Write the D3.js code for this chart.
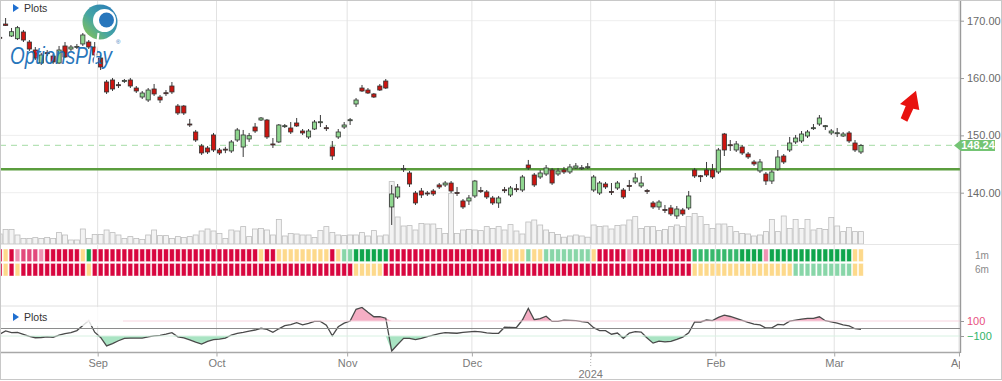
<!DOCTYPE html>
<html>
<head>
<meta charset="utf-8">
<script src="https://cdn.jsdelivr.net/npm/d3@7"></script>
<style>
  body { margin: 0; background: #fff; }
  svg { display: block; font-family: "Liberation Sans", Arial, sans-serif; }
</style>
</head>
<body>
<div id="chart"></div>
<script>
// Daily bars, Aug 9 2023 .. Mar 7 2024 (index 0 = first bar)
const opens = [
  167.10, 169.42, 167.33, 166.86, 168.03, 166.28, 164.89, 162.62, 164.42, 163.84,
  162.62, 165.59, 165.06, 165.47, 165.94, 166.28, 165.41, 163.49, 159.31, 159.66,
  158.84, 159.49, 159.66, 158.26, 156.69, 156.17, 158.09, 156.69, 157.44, 158.61,
  155.12, 155.12, 151.98, 150.59, 148.15, 147.80, 150.07, 147.45, 147.60, 147.28,
  149.19, 147.97, 149.37, 151.46, 152.68, 152.68, 148.50, 148.85, 151.59, 151.29,
  152.16, 150.76, 149.72, 151.11, 152.28, 151.34, 147.97, 149.72, 151.46, 152.63,
  155.47, 158.26, 157.91, 157.22, 158.61, 159.48, 137.51, 139.25, 144.14, 143.44,
  139.95, 140.30, 139.95, 140.30, 141.35, 141.35, 141.69, 140.04, 138.56, 138.56,
  139.43, 140.39, 140.13, 139.08, 138.21, 140.52, 139.60, 140.70, 140.47, 144.83,
  143.09, 142.74, 143.26, 143.96, 143.26, 143.96, 143.61, 144.31, 144.26, 144.43,
  140.47, 139.95, 141.52, 140.21, 140.82, 140.47, 141.26, 141.87, 141.17, 140.39,
  138.21, 137.51, 137.06, 137.34, 135.94, 136.99, 137.34, 143.96, 142.96, 143.96,
  143.96, 143.61, 150.24, 148.37, 147.45, 147.97, 146.75, 145.36, 143.79, 143.26,
  142.04, 144.14, 146.40, 147.45, 148.85, 149.02, 149.89, 151.29, 151.98, 151.64,
  150.42, 150.38, 149.89, 150.42, 148.67, 147.10
];
const highs = [
  167.40, 170.47, 168.73, 169.08, 168.38, 166.63, 165.41, 164.37, 164.89, 164.19,
  165.59, 166.28, 165.76, 165.94, 167.85, 166.63, 166.28, 164.02, 159.66, 160.01,
  159.31, 159.83, 160.01, 158.61, 157.74, 158.26, 158.96, 157.04, 157.91, 159.31,
  155.47, 155.30, 152.86, 150.94, 148.50, 148.15, 150.42, 147.80, 148.00, 149.19,
  151.29, 150.94, 150.42, 152.16, 153.20, 152.86, 149.54, 151.98, 151.98, 152.33,
  153.03, 151.11, 151.11, 152.68, 153.55, 151.81, 149.02, 151.11, 152.33, 153.03,
  156.52, 158.79, 158.26, 157.39, 158.96, 159.83, 141.35, 141.52, 144.83, 143.79,
  140.30, 140.82, 140.30, 140.65, 141.69, 142.04, 142.04, 141.00, 138.90, 139.60,
  142.22, 141.00, 140.47, 139.43, 139.43, 141.00, 141.17, 141.52, 143.09, 145.71,
  143.44, 143.96, 144.83, 144.31, 144.31, 144.49, 145.01, 145.18, 144.83, 145.18,
  143.09, 142.04, 141.87, 141.69, 142.04, 140.82, 142.22, 143.44, 142.92, 140.65,
  138.56, 138.73, 137.86, 137.86, 137.68, 137.34, 140.30, 144.31, 143.09, 145.36,
  145.01, 147.80, 150.42, 149.19, 149.02, 148.32, 147.10, 145.71, 145.88, 143.61,
  143.96, 147.45, 146.75, 149.72, 150.07, 150.76, 150.94, 151.98, 153.55, 151.81,
  151.11, 151.29, 150.59, 150.76, 149.19, 148.50
];
const lows = [
  166.70, 169.08, 167.16, 166.63, 166.28, 164.72, 163.15, 162.27, 163.84, 162.45,
  162.45, 163.49, 164.72, 165.06, 165.59, 165.06, 163.67, 161.40, 157.22, 157.74,
  158.26, 159.14, 158.26, 157.39, 156.34, 155.82, 156.87, 155.65, 156.87, 157.22,
  153.55, 153.55, 151.46, 148.85, 146.58, 146.75, 147.10, 146.58, 146.90, 146.93,
  148.85, 146.23, 148.85, 150.42, 152.51, 149.37, 147.80, 148.67, 151.29, 150.24,
  151.46, 150.07, 149.37, 150.94, 151.46, 150.76, 145.71, 149.37, 151.11, 151.81,
  154.95, 157.57, 157.22, 156.52, 157.74, 158.09, 134.37, 138.90, 143.61, 141.00,
  137.86, 139.08, 139.43, 139.43, 140.65, 141.00, 139.95, 139.43, 137.16, 137.86,
  139.08, 139.95, 138.90, 137.86, 137.34, 139.95, 139.25, 140.13, 140.13, 143.96,
  141.00, 142.39, 142.92, 141.35, 142.92, 143.26, 143.26, 144.14, 143.96, 144.14,
  140.13, 139.60, 140.65, 139.60, 140.47, 138.90, 140.30, 141.52, 140.82, 139.78,
  137.16, 136.99, 136.46, 135.94, 135.42, 135.94, 136.99, 142.57, 141.87, 142.74,
  142.39, 143.26, 146.40, 147.28, 147.10, 146.58, 145.88, 144.66, 143.44, 141.35,
  141.52, 143.79, 145.01, 147.10, 148.50, 148.67, 149.54, 150.94, 151.64, 150.94,
  150.07, 149.72, 149.72, 148.67, 147.10, 146.75
];
const closes = [
  166.95, 169.16, 168.08, 168.78, 166.63, 165.06, 163.49, 164.02, 164.32, 162.80,
  164.89, 163.67, 165.41, 165.52, 167.51, 165.41, 164.02, 161.93, 157.57, 158.09,
  158.74, 159.59, 158.61, 157.74, 157.39, 157.91, 157.22, 156.17, 157.34, 157.57,
  153.90, 153.90, 151.81, 149.19, 146.93, 147.10, 147.45, 146.93, 147.50, 148.85,
  150.94, 150.07, 149.94, 150.76, 153.03, 149.72, 148.32, 151.81, 151.69, 150.59,
  151.64, 150.42, 150.76, 152.33, 152.38, 151.24, 146.40, 150.59, 151.81, 152.73,
  156.17, 157.74, 157.39, 156.69, 157.91, 158.26, 139.78, 141.00, 144.24, 141.52,
  138.21, 139.60, 139.78, 139.78, 141.00, 141.69, 140.30, 139.86, 137.51, 139.08,
  142.04, 140.21, 139.25, 138.21, 139.08, 140.42, 140.82, 140.60, 142.74, 144.31,
  141.35, 143.44, 144.31, 141.69, 143.79, 143.61, 144.49, 144.66, 144.36, 144.53,
  142.74, 141.69, 141.00, 140.04, 141.69, 139.25, 141.10, 142.57, 141.69, 140.21,
  137.51, 138.38, 136.94, 136.29, 137.16, 136.29, 139.43, 142.92, 142.88, 143.09,
  142.74, 147.45, 147.45, 148.27, 148.50, 146.93, 146.23, 145.01, 145.36, 142.04,
  143.61, 146.23, 145.36, 148.67, 149.54, 150.24, 150.59, 151.34, 153.03, 151.69,
  150.76, 150.46, 150.24, 149.02, 147.45, 148.24
];
// volume, millions
const volumes = [
  5.0, 7.3, 7.3, 4.5, 2.8, 2.8, 3.2, 2.8, 3.3, 2.8,
  5.7, 4.5, 2.0, 2.0, 7.5, 2.8, 4.8, 4.8, 7.0, 5.7,
  4.5, 2.8, 3.7, 2.8, 2.3, 4.5, 7.0, 4.2, 4.2, 2.8,
  3.7, 3.3, 3.7, 4.5, 6.5, 7.5, 6.5, 5.3, 2.8, 7.0,
  6.5, 8.7, 3.7, 7.5, 7.8, 7.0, 4.5, 12.3, 4.0, 5.3,
  5.0, 4.5, 4.5, 3.3, 6.7, 8.7, 5.8, 4.5, 4.2, 4.5,
  4.5, 5.7, 4.0, 6.7, 4.0, 4.5, 31.2, 13.5, 9.0, 9.2,
  7.0, 10.3, 10.0, 10.0, 7.8, 5.3, 25.3, 5.3, 7.0, 7.3,
  7.0, 6.7, 8.7, 7.8, 8.7, 7.0, 9.7, 6.5, 5.0, 11.0,
  12.0, 9.5, 7.0, 5.8, 4.8, 3.4, 4.0, 4.5, 4.0, 3.4,
  9.5, 8.8, 9.0, 7.5, 9.3, 9.5, 12.0, 13.7, 7.8, 8.7,
  8.7, 6.7, 7.3, 8.7, 9.5, 8.7, 13.7, 15.3, 13.7, 9.8,
  7.8, 10.0, 10.0, 8.7, 6.2, 5.3, 5.0, 4.0, 4.5, 6.2,
  12.3, 6.2, 14.0, 7.8, 12.3, 7.8, 12.3, 7.0, 7.8, 7.3,
  13.3, 9.0, 6.2, 8.3, 6.2, 6.2
];
// oscillator (CCI style)
const oscValues = [
  -77, -32, -55, -52, -77, -105, -123, -120, -111, -117,
  -87, -69, -55, -28, 40, 105, -49, -120, -233, -201,
  -163, -131, -129, -128, -127, -113, -97, -93, -76, -56,
  -111, -124, -153, -181, -207, -171, -149, -141, -129, -87,
  -64, -51, -36, -20, 3, -11, -51, -4, 37, 53,
  77, 48, 67, 96, 95, 43, -98, 23, 71, 100,
  256, 280, 217, 157, 157, 137, -300, -213, -131, -131,
  -149, -133, -107, -87, -68, -56, -60, -63, -53, -45,
  -39, -44, -57, -64, -64, 17, 16, 13, 113, 269,
  117, 131, 164, 95, 96, 111, 109, 105, 93, 83,
  11, -27, -29, -76, -60, -131, -60, -41, -47, -127,
  -195, -168, -179, -171, -145, -115, -57, 89, 87, 113,
  105, 149, 177, 160, 136, 108, 81, 59, 47, 7,
  9, 55, 49, 97, 113, 125, 136, 136, 156, 104,
  89, 72, 49, 36, -3, -11
];
// strength heat rows: R red, P pink, L light pink, Y neutral, N light green, M green, G dark green
const heat1m = ("RYRLPPPLRR RRRRYGRRRR RRRRRRRRRR RRRRRRRRRR RRRRYRRYYY " +
  "YYYYYYRYNN GGGGGGRRRR RRRRRRRRRR RRRRRYYYYN YYNNNNNNNN " +
  "YRRRRRLRRR RRRRRRRMMM MMMMMGGGGL GGGGGGGGGG GGGGYY").replace(/ /g, "").split("");
const heat6m = ("RYRYRRRRRR RRRRRYRRRR RRRRRRRRRR RRRRRRRRRR RRRRRRRRRR " +
  "RRRRRRRRRR YYYYYRRRRR RRRRRRRRRR RRRRRRRRRR RRRRRRRRRR " +
  "RRRRRRRRRR RRRRRRRYYY YYYYYYYYYY YYYYNNNNNN NNNNYY").replace(/ /g, "").split("");
const heatRows = ["1m", "6m"];

// month starts (bar index of first session), labels
const monthStarts = [17, 37, 59, 80, 100, 121, 141, 162];
const monthLabels = ["Sep", "Oct", "Nov", "Dec", "", "Feb", "Mar", "Apr"];
const yearStarts = [100];
const yearLabels = ["2024"];

const priceTicks = [140, 150, 160, 170];
const oscTicks = [100, -100];
const supportLevel = 144.1;
const lastPrice = 148.24;

// layout
const width = 1002, height = 381;
const plotRight = 960;

const svg = d3.select("#chart").append("svg")
  .attr("width", width)
  .attr("height", height);

const defs = svg.append("defs");
defs.append("clipPath").attr("id", "plotClip")
  .append("rect").attr("x", 1).attr("y", 1).attr("width", plotRight - 1).attr("height", 360);

const grad = defs.append("linearGradient").attr("id", "logoGrad")
  .attr("x1", "0%").attr("y1", "100%").attr("x2", "100%").attr("y2", "0%");
grad.append("stop").attr("offset", "0%").attr("stop-color", "#8dc63f");
grad.append("stop").attr("offset", "45%").attr("stop-color", "#3aa0a0");
grad.append("stop").attr("offset", "100%").attr("stop-color", "#1b6fba");

// scales
const x = d3.scaleLinear().domain([0, 145]).range([-0.34, 860.96]);
const step = x(1) - x(0);
const yPrice = d3.scaleLinear().domain([140, 170]).range([192.7, 20.7]);
const yVol = d3.scaleLinear().domain([0, 40]).range([244, 164]);
const yOsc = d3.scaleLinear().domain([-100, 100]).range([336, 321]);
const yHeat = d3.scaleBand().domain(heatRows).range([249, 276]).paddingInner(0.12);
const heatColor = d3.scaleOrdinal()
  .domain(["R", "P", "L", "Y", "N", "M", "G"])
  .range(["#d8063f", "#e2497c", "#ee93b3", "#fdd98b", "#88d6a8", "#37b86c", "#0fa54c"]);

const idx = d3.range(opens.length);
const monthX = monthStarts.map(d => x(d - 0.5));

// frame
svg.append("rect")
  .attr("x", 0.5).attr("y", 0.5)
  .attr("width", width - 1).attr("height", 379)
  .attr("fill", "#fff").attr("stroke", "#c8c8c8");

// horizontal grid in price panel
svg.append("g").selectAll("line")
  .data(priceTicks)
  .enter().append("line")
  .attr("x1", 1).attr("x2", plotRight)
  .attr("y1", d => yPrice(d)).attr("y2", d => yPrice(d))
  .attr("stroke", "#eeeeee");

// vertical month grid
svg.append("g").selectAll("line")
  .data(monthX)
  .enter().append("line")
  .attr("x1", d => d).attr("x2", d => d)
  .attr("y1", 1).attr("y2", 352)
  .attr("stroke", "#e2e2e2");

const plot = svg.append("g").attr("clip-path", "url(#plotClip)");

// volume bars
plot.append("g").selectAll("rect")
  .data(idx)
  .enter().append("rect")
  .attr("x", i => x(i) - 2.5)
  .attr("width", 5)
  .attr("y", i => yVol(volumes[i]))
  .attr("height", i => yVol(0) - yVol(volumes[i]))
  .attr("fill", "#f3f3f3")
  .attr("stroke", "#bdbdbd")
  .attr("stroke-width", 0.8);

// base line under volume
svg.append("line")
  .attr("x1", 1).attr("x2", plotRight)
  .attr("y1", 244.5).attr("y2", 244.5)
  .attr("stroke", "#e6e6e6");

// support line
plot.append("line")
  .attr("x1", 0).attr("x2", plotRight)
  .attr("y1", yPrice(supportLevel)).attr("y2", yPrice(supportLevel))
  .attr("stroke", "#5b9d3e").attr("stroke-width", 2.6);

// last price dashed line
plot.append("line")
  .attr("x1", 0).attr("x2", plotRight)
  .attr("y1", yPrice(lastPrice)).attr("y2", yPrice(lastPrice))
  .attr("stroke", "#b6e2b6").attr("stroke-width", 1.2)
  .attr("stroke-dasharray", "6,5");

// candles
const candles = plot.append("g").selectAll("g")
  .data(idx)
  .enter().append("g");

candles.append("line")
  .attr("x1", i => x(i)).attr("x2", i => x(i))
  .attr("y1", i => yPrice(highs[i])).attr("y2", i => yPrice(lows[i]))
  .attr("stroke", "#3a3a3a").attr("stroke-width", 1);

candles.append("rect")
  .attr("x", i => x(i) - 2.1)
  .attr("width", 4.2)
  .attr("y", i => yPrice(Math.max(opens[i], closes[i])))
  .attr("height", i => Math.max(1, Math.abs(yPrice(opens[i]) - yPrice(closes[i]))))
  .attr("fill", i => closes[i] >= opens[i] ? "#8fd68f" : "#cc1510")
  .attr("stroke", "#333")
  .attr("stroke-width", 0.8);

// heat rows
heatRows.forEach((row, r) => {
  const codes = r === 0 ? heat1m : heat6m;
  plot.append("g").selectAll("rect")
    .data(idx)
    .enter().append("rect")
    .attr("x", i => x(i) - step / 2 + 0.6)
    .attr("width", step - 1.2)
    .attr("y", yHeat(row))
    .attr("height", yHeat.bandwidth())
    .attr("fill", i => heatColor(codes[i]))
    .attr("stroke", "rgba(255,255,255,0.55)")
    .attr("stroke-width", 0.8);
});

svg.append("g").selectAll("text")
  .data(heatRows)
  .enter().append("text")
  .attr("x", 975)
  .attr("y", d => yHeat(d) + yHeat.bandwidth() / 2 + 3.5)
  .attr("font-size", 10)
  .attr("fill", "#8a8a8a")
  .text(d => d);

// oscillator panel
svg.append("line")
  .attr("x1", 1).attr("x2", plotRight).attr("y1", 306).attr("y2", 306)
  .attr("stroke", "#e0e0e0");
svg.append("line")
  .attr("x1", 1).attr("x2", plotRight).attr("y1", yOsc(100)).attr("y2", yOsc(100))
  .attr("stroke", "#f7d3de");
svg.append("line")
  .attr("x1", 1).attr("x2", plotRight).attr("y1", yOsc(-100)).attr("y2", yOsc(-100))
  .attr("stroke", "#d8f1e2");

const oscHigh = d3.area()
  .x(i => x(i))
  .y0(yOsc(100))
  .y1(i => yOsc(Math.max(100, oscValues[i])));
const oscLow = d3.area()
  .x(i => x(i))
  .y0(yOsc(-100))
  .y1(i => yOsc(Math.min(-100, oscValues[i])));

plot.append("path").datum(idx).attr("d", oscHigh).attr("fill", "#f5aec4");
plot.append("path").datum(idx).attr("d", oscLow).attr("fill", "#a9e4c3");

svg.append("line")
  .attr("x1", 1).attr("x2", plotRight).attr("y1", yOsc(0)).attr("y2", yOsc(0))
  .attr("stroke", "#8c8c8c").attr("stroke-width", 1.2);

plot.append("path")
  .datum(idx)
  .attr("d", d3.line().x(i => x(i)).y(i => yOsc(oscValues[i])))
  .attr("fill", "none")
  .attr("stroke", "#4a4a4a")
  .attr("stroke-width", 1.3);

// legend box that hides the line behind "Plots"
svg.append("rect")
  .attr("x", 1).attr("y", 307).attr("width", 122).attr("height", 19)
  .attr("fill", "#fff").attr("opacity", 0.8);

// bottom axis
const xAxis = d3.axisBottom(x)
  .tickValues(monthStarts.map(d => d - 0.5))
  .tickSize(4)
  .tickFormat((d, i) => monthLabels[i]);

const xAxisG = svg.append("g")
  .attr("transform", "translate(0,352.5)")
  .call(xAxis);
xAxisG.select(".domain").attr("stroke", "#a8a8a8").attr("stroke-width", 1.4)
  .attr("d", `M1,0H${plotRight}`);
xAxisG.selectAll(".tick line").attr("stroke", "#a8a8a8");
xAxisG.selectAll(".tick text").attr("fill", "#7a7a7a").attr("font-size", 11)
  .attr("font-family", "Liberation Sans, Arial, sans-serif");

svg.append("g").selectAll("line")
  .data(yearStarts)
  .enter().append("line")
  .attr("x1", d => x(d - 0.5)).attr("x2", d => x(d - 0.5))
  .attr("y1", 353).attr("y2", 367)
  .attr("stroke", "#b0b0b0").attr("stroke-dasharray", "1,2");

svg.append("g").selectAll("text")
  .data(yearStarts)
  .enter().append("text")
  .attr("x", d => x(d - 0.5))
  .attr("y", 378)
  .attr("text-anchor", "middle")
  .attr("font-size", 11)
  .attr("fill", "#7a7a7a")
  .text((d, i) => yearLabels[i]);

// white mask right of the plot so "Apr" gets clipped
svg.append("rect")
  .attr("x", plotRight).attr("y", 355).attr("width", 40).attr("height", 24)
  .attr("fill", "#fff");

// right axis line
svg.append("line")
  .attr("x1", plotRight + 0.5).attr("x2", plotRight + 0.5)
  .attr("y1", 1).attr("y2", 353)
  .attr("stroke", "#9a9a9a").attr("stroke-width", 1.4);

// price axis
const yAxis = d3.axisRight(yPrice)
  .tickValues(priceTicks)
  .tickSize(4)
  .tickFormat(d3.format(".2f"));
const yAxisG = svg.append("g")
  .attr("transform", `translate(${plotRight},0)`)
  .call(yAxis);
yAxisG.select(".domain").remove();
yAxisG.selectAll(".tick line").attr("stroke", "#999");
yAxisG.selectAll(".tick text").attr("fill", "#6a6a6a").attr("font-size", 11)
  .attr("font-family", "Liberation Sans, Arial, sans-serif");

// oscillator axis
const oscAxis = d3.axisRight(yOsc)
  .tickValues(oscTicks)
  .tickSize(4)
  .tickFormat(d3.format("d"));
const oscAxisG = svg.append("g")
  .attr("transform", `translate(${plotRight},0)`)
  .call(oscAxis);
oscAxisG.select(".domain").remove();
oscAxisG.selectAll(".tick line").attr("stroke", "#999");
oscAxisG.selectAll(".tick text")
  .attr("font-size", 11)
  .attr("font-family", "Liberation Sans, Arial, sans-serif")
  .attr("fill", d => d > 0 ? "#e8507e" : "#2fb36a");

// last price tag
const tagY = yPrice(lastPrice);
svg.append("path")
  .attr("d", `M954,${tagY} L961,${tagY - 5.5} L995,${tagY - 5.5} L995,${tagY + 5.5} L961,${tagY + 5.5} Z`)
  .attr("fill", "#74c474");
svg.append("text")
  .attr("x", 978).attr("y", tagY + 4)
  .attr("text-anchor", "middle")
  .attr("font-size", 11).attr("font-weight", "bold")
  .attr("fill", "#fff")
  .text(lastPrice.toFixed(2));

// red arrow
svg.append("path")
  .attr("d", "M916,90.7 L919.3,110 L913.3,108.7 L907.3,121.7 L900.7,118.3 L905.7,106 L900,104 Z")
  .attr("fill", "#e8120f");

// "Plots" labels
[8, 317].forEach(yy => {
  svg.append("path")
    .attr("d", `M13,${yy - 4} L19,${yy} L13,${yy + 4} Z`)
    .attr("fill", "#1f6fd0");
  svg.append("text")
    .attr("x", 24).attr("y", yy + 4)
    .attr("font-size", 10.5)
    .attr("fill", "#333")
    .text("Plots");
});

// logo
const logo = svg.append("g").attr("opacity", 0.95);
logo.append("circle").attr("cx", 100).attr("cy", 22).attr("r", 17.5).attr("fill", "url(#logoGrad)");
logo.append("circle").attr("cx", 104.5).attr("cy", 20.5).attr("r", 11.5).attr("fill", "#fff");
logo.append("circle").attr("cx", 106.5).attr("cy", 20).attr("r", 7.5).attr("fill", "#1c6fb9");
logo.append("text")
  .attr("x", 10).attr("y", 64)
  .attr("font-size", 23)
  .attr("font-style", "italic")
  .attr("fill", "#1a6fb8")
  .attr("textLength", 102)
  .attr("lengthAdjust", "spacingAndGlyphs")
  .text("OptionsPlay");
logo.append("line")
  .attr("x1", 98.5).attr("y1", 33).attr("x2", 94).attr("y2", 67)
  .attr("stroke", "#fff").attr("stroke-width", 2);
logo.append("text")
  .attr("x", 116).attr("y", 44)
  .attr("font-size", 6)
  .attr("fill", "#1a6fb8")
  .text("®");
</script>
</body>
</html>
